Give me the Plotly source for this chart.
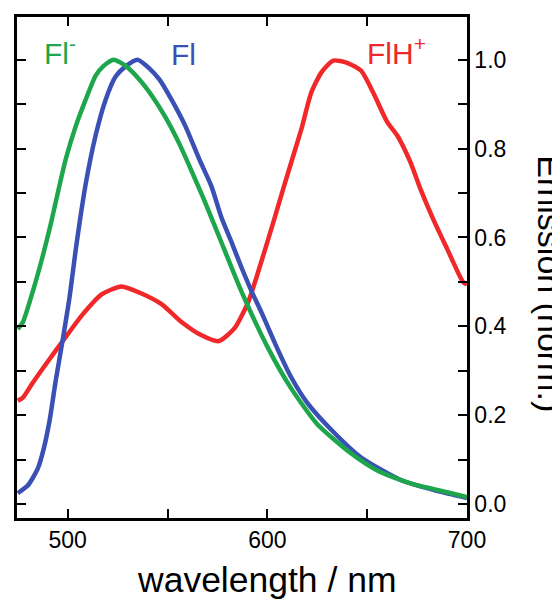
import plotly.graph_objects as go

# Fl- (dianion) emission
fl_minus_nm = [475, 477.6, 482.6, 487.6, 491.5, 494, 499, 504, 509, 514, 518, 523, 529, 536, 542,
               549, 556, 562, 568, 576, 587, 600.5, 612, 625, 642, 655, 667, 673, 690, 700]
fl_minus_val = [0.394, 0.41, 0.48, 0.56, 0.63, 0.68, 0.776, 0.85, 0.91, 0.964, 0.986, 1.0, 0.986, 0.955, 0.92,
                0.87, 0.81, 0.75, 0.688, 0.60, 0.479, 0.35, 0.26, 0.18, 0.114, 0.076, 0.054, 0.045, 0.027, 0.016]

# Fl (monoanion) emission
fl_nm = [475, 480, 485, 488, 491, 494, 497.5, 501, 504, 509, 514, 519, 524, 529, 535, 541, 546,
         552, 559, 566, 572, 577, 582, 587, 592, 597, 605, 612, 620, 633, 647, 667, 685, 700]
fl_val = [0.025, 0.042, 0.08, 0.125, 0.19, 0.278, 0.37, 0.468, 0.572, 0.72, 0.83, 0.91, 0.962, 0.985, 1.0, 0.98, 0.955,
          0.91, 0.85, 0.775, 0.715, 0.645, 0.59, 0.533, 0.48, 0.432, 0.35, 0.285, 0.228, 0.163, 0.105, 0.054, 0.03, 0.014]

# FlH+ (cation) emission
flh_nm = [475, 477.6, 482, 487.6, 497.5, 507.5, 517, 527, 537, 547, 557, 567, 575.6, 583.6, 590.5, 597,
          603.5, 608.5, 613.4, 617, 622, 627, 633, 640, 647, 653, 660, 665, 671.6, 676.6, 683, 690, 698, 700]
flh_val = [0.233, 0.24, 0.27, 0.306, 0.367, 0.427, 0.472, 0.49, 0.474, 0.45, 0.41, 0.38, 0.367, 0.396, 0.456, 0.546,
           0.642, 0.718, 0.79, 0.843, 0.926, 0.971, 0.998, 0.993, 0.975, 0.926, 0.86, 0.83, 0.77, 0.71, 0.642, 0.575, 0.50, 0.494]

GREEN = "#1da64c"
BLUE = "#3a50b4"
RED = "#f0282a"
FONT = "Liberation Sans, Arial, sans-serif"

fig = go.Figure()
line_kw = dict(width=4.5, shape="spline", smoothing=0.6)
fig.add_trace(go.Scatter(x=flh_nm, y=flh_val, mode="lines", line=dict(color=RED, **line_kw), showlegend=False))
fig.add_trace(go.Scatter(x=fl_nm, y=fl_val, mode="lines", line=dict(color=BLUE, **line_kw), showlegend=False))
fig.add_trace(go.Scatter(x=fl_minus_nm, y=fl_minus_val, mode="lines", line=dict(color=GREEN, **line_kw), showlegend=False))

axis_common = dict(
    showline=True, linecolor="black", linewidth=2.5, mirror="ticks",
    ticks="inside", ticklen=9, tickwidth=2, tickcolor="black",
    showgrid=False, zeroline=False,
    tickfont=dict(family=FONT, size=23, color="black"),
)

fig.update_xaxes(range=[474.6, 700], tick0=500, dtick=100,
                 minor=dict(dtick=50, ticks="inside", ticklen=9, tickwidth=2, tickcolor="black", showgrid=False),
                 **axis_common)
fig.update_yaxes(range=[-0.031, 1.096], side="right", tick0=0, dtick=0.2, tickformat=".1f",
                 minor=dict(dtick=0.1, ticks="inside", ticklen=9, tickwidth=2, tickcolor="black", showgrid=False),
                 **axis_common)

ann = [
    dict(text="Fl<sup>-</sup>", x=496, y=1.02, xref="x", yref="y", showarrow=False,
         font=dict(family=FONT, size=30, color=GREEN), xanchor="center", yanchor="middle"),
    dict(text="Fl", x=558.0, y=1.012, xref="x", yref="y", showarrow=False,
         font=dict(family=FONT, size=30, color=BLUE), xanchor="center", yanchor="middle"),
    dict(text="FlH<sup>+</sup>", x=664.5, y=1.02, xref="x", yref="y", showarrow=False,
         font=dict(family=FONT, size=30, color=RED), xanchor="center", yanchor="middle"),
    dict(text="wavelength / nm", x=0.555, y=-0.123, xref="paper", yref="paper", showarrow=False,
         font=dict(family=FONT, size=35.5, color="black"), xanchor="center", yanchor="middle"),
    dict(text="Emission (norm.)", x=1.185, y=0.468, xref="paper", yref="paper", showarrow=False,
         textangle=90, font=dict(family=FONT, size=34, color="black"), xanchor="center", yanchor="middle"),
]

# page body has an 8px margin; margins chosen so the plot area lands at page x 14..467, y 14..518
fig.update_layout(
    width=552, height=593,
    margin=dict(l=6, r=93, t=6, b=83),
    paper_bgcolor="white", plot_bgcolor="white",
    annotations=ann,
)

fig.write_html("out.html")
